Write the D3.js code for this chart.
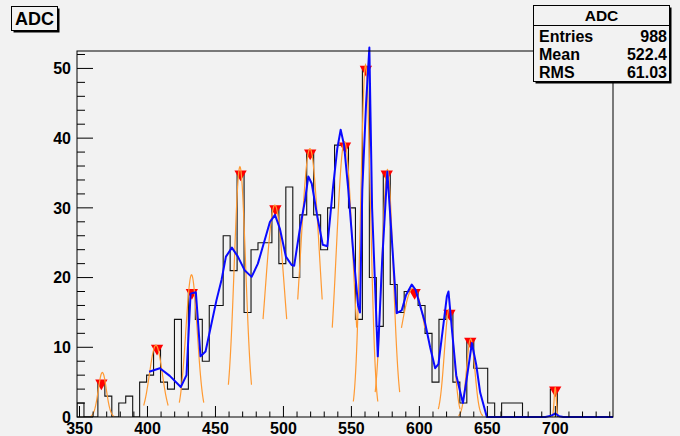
<!DOCTYPE html>
<html><head><meta charset="utf-8">
<script src="https://cdn.jsdelivr.net/npm/d3@7"></script>
<style>
html,body{margin:0;padding:0;background:#f2f2f2;}
svg{display:block;}
text{font-family:"Liberation Sans",Arial,Helvetica,sans-serif;font-weight:bold;fill:#000;}
</style></head><body>
<svg id="c" width="680" height="436"></svg>
<script>
// ---- data ----
const binLow = 348.16;
const binWidth = 5.12;
const counts = [2,0,0,5,3,0,2,3,0,5,
  6,10,5,4,14,4,18,14,8,16,
  16,26,21,35,15,24,25,25,30,22,
  33,20,29,38,29,24,30,39,39,30,
  14,50,20,13,35,19,15,18,18,16,
  12,5,14,15,5,2,11,7,7,2,
  0,2,2,2,0,0,0,0,4,0,
  0,0,0,0,0,0,0];
const xTickLabels = [350,400,450,500,550,600,650,700];
const yTickLabels = [0,10,20,30,40,50];
const peakX = [366.08,407.04,432.64,468.48,494.08,519.68,545.28,560.64,576.0,596.48,622.08,637.44,699.9];
const peakY = [5,10,18,35,30,38,39,50,35,18,15,11,4];
const fitMean  = [366.8,406.2,432.4,468.0,493.7,519.5,544.9,560.4,576.5,595.4,621.9,637.7,699.9];
const fitAmp   = [6.4,10.3,20.4,35.9,30.4,38.5,39.5,50.5,35.5,18.5,15.5,11.2,4.2];
const fitSigma = [3.0,4.7,4.2,4.2,7,7,6,3.6,4.2,10,3.5,3.1,0.8];
const fitRange = [8.6,9,9,8.5,8.7,9,9,9,9,8.6,8,9,2.5];
const blueX = [401.2,409.1,416.4,424.5,428.7,431.7,435.6,439.0,442.7,450.8,454.5,457.7,462.1,466.5,471.6,476.6,481.2,486.4,490.1,493.8,497.4,501.8,506.0,507.9,512.1,515.8,518.3,520.8,524.7,528.9,532.3,536.5,539.6,542.1,544.6,547.7,551.2,554.9,556.3,558.0,560.8,563.2,565.2,569.4,572.5,576.4,579.9,583.3,587.0,590.2,594.4,597.3,600.5,604.2,607.9,611.6,614.0,617.5,620.2,621.4,624.2,627.1,632.0,635.2,638.6,641.8,644.7,649.6,692.6,697.0,700.0,702.9,705.8,742.4];
const blueY = [6.5,7.0,5.9,4.3,6.0,17.7,17.9,8.7,9.4,16.8,19.7,23,24.3,23,21,20.1,22,25.5,28,29,27,23,21.8,21.7,27,31,34.5,33.5,29,24.7,24.5,33,38.5,41.2,39,32.6,24,16,15,32.6,45,53,30,8.7,22,35.2,25,14.9,15.3,17.5,19,18.2,16,13.5,10,7,7.6,13,17.3,18.0,12,6,2.0,6,10.6,7.5,3.5,0,0,0.2,0.5,0.1,0,0];
const statsTitle = "ADC";
const statsRows = [["Entries","988"],["Mean","522.4"],["RMS","61.03"]];
const histTitle = "ADC";

// ---- layout ----
const svg = d3.select("#c");
const L = 77, R = 613, T = 51, B = 417;
const x = d3.scaleLinear().domain([binLow, binLow + counts.length*binWidth]).range([L, R]);
const y = d3.scaleLinear().domain([0, 52.5]).range([B, T]);

svg.append("rect").attr("width",680).attr("height",436).attr("fill","#f2f2f2");

const clipId = "frameclip";
svg.append("clipPath").attr("id",clipId).append("rect").attr("x",L).attr("y",T).attr("width",R-L).attr("height",B-T);

// histogram step outline
const pts = [[x(binLow), y(0)]];
counts.forEach((c,i)=>{
  const x0 = x(binLow + i*binWidth), x1 = x(binLow + (i+1)*binWidth);
  pts.push([x0, y(c)], [x1, y(c)]);
});
pts.push([x(binLow + counts.length*binWidth), y(0)]);
svg.append("path").attr("d", d3.line()(pts)).attr("fill","none").attr("stroke","#111").attr("stroke-width",1.1)
  .attr("clip-path","url(#"+clipId+")");

// peak markers
const tri = d3.symbol().type(d3.symbolTriangle).size(66);
svg.append("g").selectAll("path").data(peakX).join("path")
  .attr("d", tri)
  .attr("transform",(d,i)=>`translate(${x(d)},${y(peakY[i])+1}) rotate(180)`)
  .attr("fill","#ff0000");

// gaussian fits
const fitLine = d3.line().x(d=>x(d[0])).y(d=>y(d[1]));
fitMean.forEach((m,k)=>{
  const a = fitAmp[k], s = fitSigma[k], r = fitRange[k];
  const n = 60, seg = [];
  for (let j=0;j<=n;j++){ const v = m - r + 2*r*j/n; seg.push([v, a*Math.exp(-0.5*((v-m)/s)**2)]); }
  svg.append("path").attr("d", fitLine(seg)).attr("fill","none").attr("stroke","#ff9a33").attr("stroke-width",1.2);
});

// blue curve
svg.append("path").attr("d", d3.line().x((d,i)=>x(d)).y((d,i)=>y(blueY[i]))(blueX))
  .attr("fill","none").attr("stroke","#0a0aff").attr("stroke-width",2).attr("stroke-linejoin","round");

// frame
svg.append("rect").attr("x",L).attr("y",T).attr("width",R-L).attr("height",B-T)
  .attr("fill","none").attr("stroke","#000").attr("stroke-width",1);

// x axis ticks (drawn upward)
const xMinor = d3.range(350, 741, 10);
svg.append("g").selectAll("line").data(xMinor).join("line")
  .attr("x1",d=>x(d)).attr("x2",d=>x(d)).attr("y1",B).attr("y2",d=> d%50===0 ? B-11 : B-5.5)
  .attr("stroke","#000").attr("stroke-width",1);
svg.append("g").selectAll("text").data(xTickLabels).join("text")
  .attr("x",d=>x(d)).attr("y",434).attr("text-anchor","middle").attr("font-size",16).text(d=>d);

// y axis ticks
const yMinor = d3.range(0, 53, 2);
svg.append("g").selectAll("line").data(yMinor).join("line")
  .attr("x1",L).attr("x2",d=> d%10===0 ? L+16 : L+8).attr("y1",d=>y(d)).attr("y2",d=>y(d))
  .attr("stroke","#000").attr("stroke-width",1);
svg.append("g").selectAll("text").data(yTickLabels).join("text")
  .attr("x",71).attr("y",d=>y(d)).attr("dy","0.36em").attr("text-anchor","end").attr("font-size",16).text(d=>d);

// boxes
function boxWithShadow(x0,y0,w,h){
  svg.append("rect").attr("x",x0+2).attr("y",y0+2).attr("width",w).attr("height",h).attr("fill","#000");
  svg.append("rect").attr("x",x0).attr("y",y0).attr("width",w).attr("height",h).attr("fill","#f2f2f2").attr("stroke","#000").attr("stroke-width",1);
}
boxWithShadow(11.5,6.5,46,24);
svg.append("text").attr("x",34.5).attr("y",25).attr("text-anchor","middle").attr("font-size",18).text(histTitle);

// stats box
boxWithShadow(533.5,5.5,136,76);
svg.append("line").attr("x1",533.5).attr("x2",669.5).attr("y1",25.5).attr("y2",25.5).attr("stroke","#000");
svg.append("text").attr("x",601.5).attr("y",21).attr("text-anchor","middle").attr("font-size",15.5).text(statsTitle);
statsRows.forEach((r,i)=>{
  const by = 41.5 + i*18;
  svg.append("text").attr("x",539).attr("y",by).attr("font-size",16).text(r[0]);
  svg.append("text").attr("x",667).attr("y",by).attr("text-anchor","end").attr("font-size",16).text(r[1]);
});
</script>
</body></html>
